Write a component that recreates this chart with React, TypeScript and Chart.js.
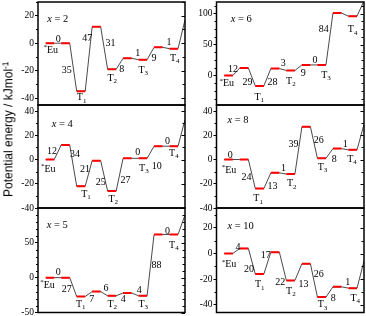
import React, { useEffect, useRef } from 'react';
import { Chart, registerables } from 'chart.js';
Chart.register(...registerables);

type Note = [string, number, number];

// ---------- data ----------
// energy levels per slot: *Eu, TS, T1, TS, T2, TS, T3, TS, T4, product
const levelsX2 = [0, 0, -35, 12, -19, -11, -12, -3, -4, 17];
const ticksX2 = [-40, -20, 0, 20];
const rangeX2 = [-45, 30];
const notesX2: Note[] = [
  ['0', 0.81, 3.0], ['*Eu', 0.44, -5.3], ['35', 1.35, -19.7], ['T1', 2.32, -39.7],
  ['47', 2.68, 3.2], ['31', 4.19, -0.2], ['T2', 4.3, -25.5], ['8', 4.92, -18.7],
  ['1', 5.95, -7.7], ['T3', 6.3, -19.7], ['9', 6.99, -10.8], ['1', 7.97, 0.5], ['T4', 8.34, -10.8],
];

const levelsX6 = [0, 12, -17, 11, 8, 17, 17, 101, 96, 121];
const ticksX6 = [0, 50, 100];
const rangeX6 = [-48, 119];
const notesX6: Note[] = [
  ['12', 0.57, 9.2], ['*Eu', 0.27, -13.5], ['29', 1.5, -10.8], ['T1', 2.25, -35],
  ['28', 3.11, -10.8], ['3', 3.8, 19], ['T2', 4.29, -9.7], ['9', 5.08, 3.8],
  ['0', 5.84, 24.3], ['T3', 6.55, 0], ['84', 6.4, 74], ['T4', 8.27, 74],
];

const levelsX4 = [0, 12, -22, -1, -26, 1, 1, 11, 11, 33];
const ticksX4 = [-40, -20, 0, 20, 40];
const rangeX4 = [-40, 45];
const notesX4: Note[] = [
  ['12', 0.4, 6.7], ['*Eu', 0.28, -8.3], ['34', 1.89, 4], ['21', 2.54, -8.3],
  ['T1', 2.6, -28.7], ['25', 3.55, -18.7], ['T2', 4.36, -32.8], ['27', 5.16, -17],
  ['0', 5.94, 6.2], ['T3', 6.34, -6.9], ['10', 7.18, -5.5], ['0', 7.87, 14.9], ['T4', 8.28, 5.4],
];

const levelsX8 = [0, 0, -24, -11, -12, 27, 1, 9, 8, 29];
const ticksX8 = [-40, -20, 0, 20, 40];
const rangeX8 = [-40, 45];
const notesX8: Note[] = [
  ['0', 0.38, 3.2], ['*Eu', 0.42, -8.8], ['24', 1.43, -15.1], ['T1', 2.18, -32.3],
  ['13', 3.11, -22.4], ['1', 3.82, -7.5], ['T2', 4.35, -20], ['39', 4.46, 12.8],
  ['26', 6.08, 15.5], ['T3', 6.33, -6.4], ['8', 7.08, -0.1], ['1', 7.8, 12.2], ['T4', 8.23, 0.5],
];

const levelsX5 = [0, 0, -27, -20, -26, -22, -26, 62, 62, 90];
const ticksX5 = [-50, 0, 50];
const rangeX5 = [-50, 100];
const notesX5: Note[] = [
  ['0', 0.81, 8], ['*Eu', 0.23, -11], ['27', 1.35, -17.1], ['T1', 2.26, -38],
  ['7', 2.97, -31.4], ['6', 3.89, -15.7], ['T2', 4.3, -38], ['4', 5.01, -31.4],
  ['4', 6.04, -18.1], ['T3', 6.3, -38], ['88', 7.16, 17.6], ['0', 7.87, 66.6], ['T4', 8.28, 46],
];

const levelsX10 = [0, 4, -16, 1, -21, -8, -34, -26, -27, -6];
const ticksX10 = [-40, -20, 0, 20];
const rangeX10 = [-46, 35.5];
const notesX10: Note[] = [
  ['4', 0.89, 5], ['*Eu', 0.42, -8.8], ['20', 1.6, -12.2], ['T1', 2.29, -24.4],
  ['17', 2.68, -1.8], ['22', 3.6, -22.6], ['T2', 4.29, -29.6], ['13', 5.11, -24.4],
  ['26', 6.08, -16.6], ['T3', 6.33, -40], ['8', 7.02, -34.8], ['1', 7.95, -22.3], ['T4', 8.44, -34.8],
];

interface Panel {
  name: string; levels: number[]; notes: Note[]; ticks: number[]; range: number[];
  minor: number; titleAt: number[]; col: number; row: number;
}

const PANELS: Panel[] = [
  { name: '2', levels: levelsX2, notes: notesX2, ticks: ticksX2, range: rangeX2, minor: 10, titleAt: [0.1, 17.6], col: 0, row: 0 },
  { name: '6', levels: levelsX6, notes: notesX6, ticks: ticksX6, range: rangeX6, minor: 12.5, titleAt: [0.42, 90.8], col: 1, row: 0 },
  { name: '4', levels: levelsX4, notes: notesX4, ticks: ticksX4, range: rangeX4, minor: 10, titleAt: [0.39, 29.2], col: 0, row: 1 },
  { name: '8', levels: levelsX8, notes: notesX8, ticks: ticksX8, range: rangeX8, minor: 10, titleAt: [0.21, 32.7], col: 1, row: 1 },
  { name: '5', levels: levelsX5, notes: notesX5, ticks: ticksX5, range: rangeX5, minor: 10, titleAt: [0.06, 74.7], col: 0, row: 2 },
  { name: '10', levels: levelsX10, notes: notesX10, ticks: ticksX10, range: rangeX10, minor: 10, titleAt: [0.21, 21], col: 1, row: 2 },
];

// ---------- layout ----------
const SLOT_W = 0.55;
const COL_X = [[38, 185], [216.5, 364]];
const ROW_Y = [[2, 105], [105, 208], [208, 312.5]];
const CANVAS_X = [[0, 188], [188, 366]];
const SERIF = "'Liberation Serif', 'DejaVu Serif', serif";

function geometry(p: Panel) {
  const left = CANVAS_X[p.col][0];
  const w = CANVAS_X[p.col][1] - left;
  const yW = COL_X[p.col][0] - left;
  const padRight = CANVAS_X[p.col][1] - COL_X[p.col][1];
  const top = Math.floor(ROW_Y[p.row][0] - 9);
  const bottom = Math.ceil(ROW_Y[p.row][1] + 9);
  return { left, w, yW, padRight, top, h: bottom - top, padTop: ROW_Y[p.row][0] - top, padBottom: bottom - ROW_Y[p.row][1] };
}

function drawNote(ctx: CanvasRenderingContext2D, text: string, px: number, py: number) {
  ctx.fillStyle = '#000';
  ctx.textBaseline = 'middle';
  if (text === '*Eu') {
    ctx.font = `10px ${SERIF}`;
    const w = ctx.measureText('Eu').width;
    ctx.textAlign = 'center';
    ctx.fillText('Eu', px, py);
    ctx.font = `7px ${SERIF}`;
    ctx.textAlign = 'right';
    ctx.fillText('*', px - w / 2, py - 3);
  } else if (/^T\d$/.test(text)) {
    ctx.font = `10px ${SERIF}`;
    const wT = ctx.measureText('T').width;
    ctx.font = `7px ${SERIF}`;
    const wD = ctx.measureText(text[1]).width;
    const start = px - (wT + wD) / 2;
    ctx.textAlign = 'left';
    ctx.font = `10px ${SERIF}`;
    ctx.fillText('T', start, py);
    ctx.font = `7px ${SERIF}`;
    ctx.fillText(text[1], start + wT, py + 3);
  } else {
    ctx.font = `10px ${SERIF}`;
    ctx.textAlign = 'center';
    ctx.fillText(text, px, py);
  }
}

function PanelChart({ p }: { p: Panel }) {
  const ref = useRef<HTMLCanvasElement>(null);
  const g = geometry(p);
  useEffect(() => {
    const gray: any[] = [];
    const red: any[] = [];
    p.levels.forEach((v, k) => {
      gray.push({ x: k, y: v }, { x: k + SLOT_W, y: v });
      red.push({ x: k, y: v }, { x: k + SLOT_W, y: v }, { x: k + SLOT_W + 0.01, y: null });
    });
    const framePlugin = {
      id: 'frame' + p.name,
      afterDatasetsDraw(chart: any) {
        const { ctx, chartArea: a, scales } = chart;
        const xs = scales.x, ys = scales.y;
        ctx.save();
        p.notes.forEach(([t, nx, ny]) => drawNote(ctx, t, xs.getPixelForValue(nx), ys.getPixelForValue(ny)));
        // panel title
        const tx = xs.getPixelForValue(p.titleAt[0]);
        const ty = ys.getPixelForValue(p.titleAt[1]);
        ctx.textBaseline = 'middle';
        ctx.textAlign = 'left';
        ctx.font = `italic 10.5px ${SERIF}`;
        ctx.fillText('x', tx, ty);
        const wx = ctx.measureText('x').width;
        ctx.font = `10.5px ${SERIF}`;
        ctx.fillText(' = ' + p.name, tx + wx, ty);
        // ticks
        ctx.strokeStyle = '#000';
        ctx.lineWidth = 1;
        const start = Math.ceil(p.range[0] / p.minor) * p.minor;
        for (let v = start; v <= p.range[1] + 1e-6; v += p.minor) {
          const py = Math.round(ys.getPixelForValue(v)) + 0.5;
          const major = p.ticks.includes(v);
          ctx.beginPath();
          if (!major) {
            ctx.moveTo(a.left - 2, py);
            ctx.lineTo(a.left, py);
          }
          ctx.moveTo(a.right - (major ? 3.5 : 2.5), py);
          ctx.lineTo(a.right, py);
          ctx.stroke();
        }
        ctx.lineWidth = 1.5;
        ctx.strokeRect(a.left, a.top, a.right - a.left, a.bottom - a.top);
        ctx.restore();
      },
    };
    const chart = new Chart(ref.current!, {
      type: 'line',
      data: {
        datasets: [
          { data: red, borderColor: '#ff0000', borderWidth: 2, pointRadius: 0, spanGaps: false, order: 0, borderCapStyle: 'butt' } as any,
          { data: gray, borderColor: '#4a4a4a', borderWidth: 1, pointRadius: 0, order: 1 } as any,
        ],
      },
      options: {
        animation: false,
        responsive: false,
        events: [],
        layout: { padding: { left: 0, right: g.padRight, top: g.padTop, bottom: g.padBottom } },
        plugins: { legend: { display: false }, tooltip: { enabled: false } },
        scales: {
          x: { type: 'linear', min: -0.5, max: 9, display: false },
          y: {
            type: 'linear',
            min: p.range[0],
            max: p.range[1],
            afterFit: (s: any) => { s.width = g.yW; },
            afterBuildTicks: (s: any) => { s.ticks = p.ticks.map((v) => ({ value: v })); },
            grid: { drawOnChartArea: false, drawTicks: true, tickLength: 3, color: '#000', lineWidth: 1 },
            border: { display: false },
            ticks: { padding: 1, color: '#000', font: { family: SERIF, size: 9.5 } },
          },
        },
      } as any,
      plugins: [framePlugin],
    });
    return () => chart.destroy();
  }, []);
  return (
    <canvas
      ref={ref}
      width={g.w}
      height={g.h}
      style={{ position: 'absolute', left: g.left, top: g.top, width: g.w, height: g.h }}
    />
  );
}

export default function App() {
  return (
    <div style={{ position: 'fixed', left: 0, top: 0, width: 366, height: 316, overflow: 'hidden', background: '#fff' }}>
      {PANELS.map((p) => <PanelChart key={p.name} p={p} />)}
      <div
        style={{
          position: 'absolute', left: 0, top: 0, transformOrigin: '0 0',
          transform: 'translate(2.4px, 197px) rotate(-90deg)', whiteSpace: 'nowrap',
          font: "12px 'Liberation Sans', Arial, sans-serif", lineHeight: 1, color: '#000',
        }}
      >
        Potential energy / kJmol<span style={{ fontSize: '0.7em', position: 'relative', top: '-0.5em' }}>-1</span>
      </div>
    </div>
  );
}
